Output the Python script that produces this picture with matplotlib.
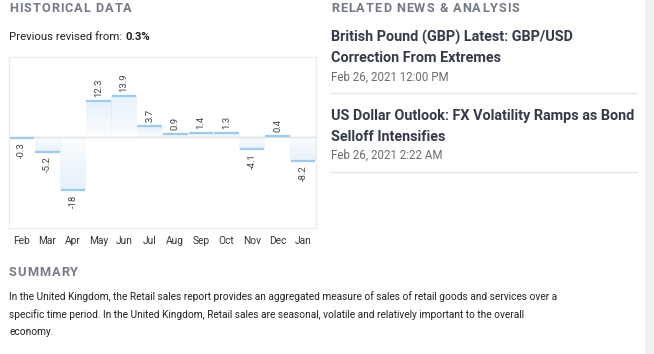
import numpy as np
from matplotlib import pyplot as plt
from matplotlib import font_manager
from matplotlib.patches import Rectangle

plt.rcParams['font.family'] = ['Roboto', 'DejaVu Sans']

# data
months = ["Feb", "Mar", "Apr", "May", "Jun", "Jul", "Aug", "Sep", "Oct", "Nov", "Dec", "Jan"]
values = [-0.3, -5.2, -18, 12.3, 13.9, 3.7, 0.9, 1.4, 1.3, -4.1, 0.4, -8.2]
value_labels = ["-0.3", "-5.2", "-18", "12.3", "13.9", "3.7", "0.9", "1.4", "1.3", "-4.1", "0.4", "-8.2"]
previous_revised = "0.3%"
news_titles = [["British Pound (GBP) Latest: GBP/USD", "Correction From Extremes"],
               ["US Dollar Outlook: FX Volatility Ramps as Bond", "Selloff Intensifies"]]
news_dates = ["Feb 26, 2021 12:00 PM", "Feb 26, 2021 2:22 AM"]
summary_lines = ["In the United Kingdom, the Retail sales report provides an aggregated measure of sales of retail goods and services over a",
                 "specific time period. In the United Kingdom, Retail sales are seasonal, volatile and relatively important to the overall",
                 "economy."]

W, H = 654, 354
fig = plt.figure(figsize=(W / 100, H / 100), dpi=100)
fig.patch.set_facecolor("white")
r = fig.canvas.get_renderer()


def fy(y):
    return 1 - y / H


def fx(x):
    return x / W


heading = font_manager.FontProperties(family="Roboto", weight="bold", size=9.2)
head_col = "#737a85"


def text_width(s, fp):
    t = fig.text(0, 0, s + "I", fontproperties=fp)
    w = t.get_window_extent(r).width
    t.remove()
    t = fig.text(0, 0, "I", fontproperties=fp)
    w -= t.get_window_extent(r).width
    t.remove()
    return w


def spaced_text(x, y, s, fp, spacing, color):
    # no letter-spacing in matplotlib, so place each char by hand
    for i, ch in enumerate(s):
        xx = x + text_width(s[:i], fp) + i * spacing if i else x
        fig.text(fx(xx), fy(y), ch, fontproperties=fp, color=color, va="center", ha="left")


# page headings
spaced_text(9, 9, "HISTORICAL DATA", heading, 1.0, head_col)
spaced_text(331, 9, "RELATED NEWS & ANALYSIS", heading, 1.0, head_col)
spaced_text(9, 273, "SUMMARY", heading, 1.0, head_col)

t = fig.text(fx(9), fy(37), "Previous revised from: ", fontsize=8.2, color="#222222", va="center")
wp = t.get_window_extent(r).width
fig.text(fx(9 + wp), fy(37), previous_revised, fontsize=8.2, color="#222222", va="center", weight="bold")

# related news
title_y = [[37, 58], [116, 137]]
date_y = [77, 155]
sep_y = [93, 172]
for k in range(2):
    for line, yy in zip(news_titles[k], title_y[k]):
        fig.text(fx(331), fy(yy), line, fontsize=10.4, weight="bold", color="#343b47", va="center")
    fig.text(fx(331), fy(date_y[k]), news_dates[k], fontsize=8.3, color="#6c6c6c", va="center")
    fig.add_artist(plt.Line2D([fx(331), fx(637)], [fy(sep_y[k]), fy(sep_y[k])], color="#e6e6e6", lw=1))

# summary
for line, yy in zip(summary_lines, [297, 315, 332]):
    fig.text(fx(9), fy(yy), line, fontsize=7.3, color="#222222", va="center")

# scrollbar strip
fig.add_artist(Rectangle((fx(645), 0), fx(9), 1, transform=fig.transFigure, color="#f1f1f1", lw=0))

# chart
ax = fig.add_axes([fx(9), fy(228), fx(307), (228 - 57) / H])
for s in ax.spines.values():
    s.set_color("#ececec")
    s.set_linewidth(1)
ax.set_xticks([])
ax.set_yticks([])

line_col = "#9dcaf0"
base = np.array([0x9d, 0xca, 0xf0]) / 255
grad = np.zeros((64, 1, 4))
grad[:, 0, :3] = base
grad[:, 0, 3] = np.linspace(0.04, 0.26, 64)

for i, v in enumerate(values):
    ax.imshow(grad, extent=(i - 0.5, i + 0.5, 0, v), origin="lower", aspect="auto", zorder=1)
    ax.plot([i - 0.48, i + 0.48], [v, v], color=line_col, lw=1.6, zorder=3, solid_capstyle="butt")
    off = 3 if v >= 0 else -3
    ax.annotate(value_labels[i], (i, v), xytext=(0, off), textcoords="offset points",
                rotation=90, ha="center", va="bottom" if v >= 0 else "top",
                fontsize=6.8, color="#444444")

ax.axhline(0, color="#e4e4e4", lw=1, zorder=0)
ax.set_xlim(-0.5, len(months) - 0.5)
ax.set_ylim(-30.8, 27.1)

for i, m in enumerate(months):
    ax.annotate(m, (i, 0), xycoords=("data", "axes fraction"), xytext=(0, -9),
                textcoords="offset points", ha="center", va="center", fontsize=7.3, color="#333333")

plt.savefig("out.png", dpi=100)
